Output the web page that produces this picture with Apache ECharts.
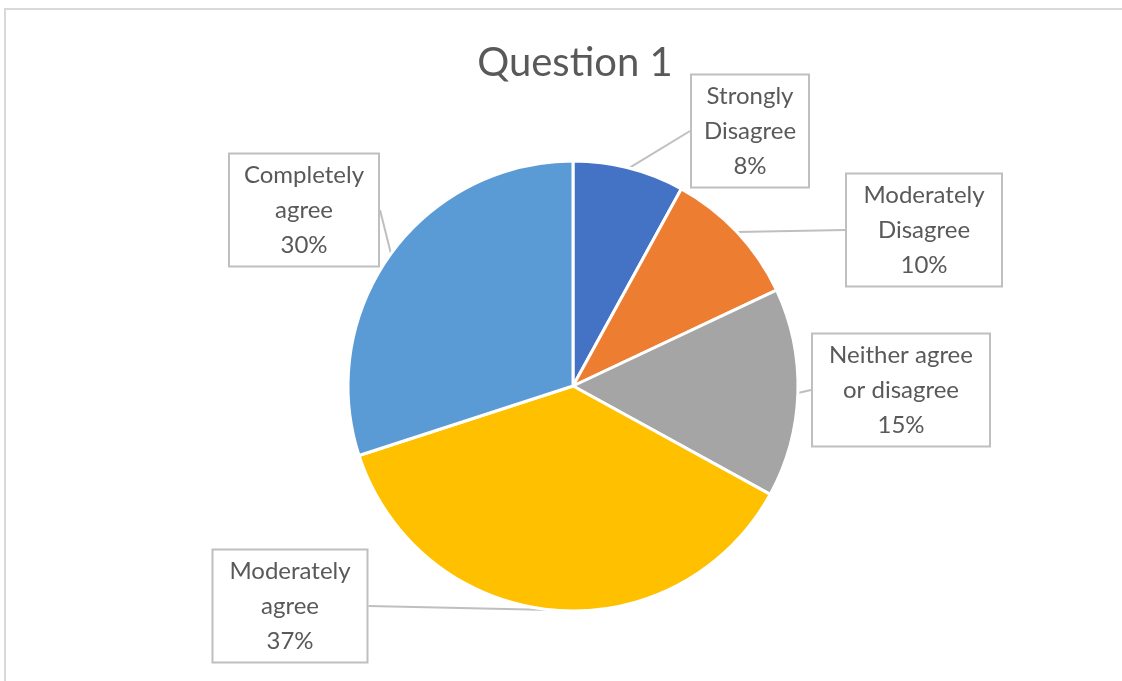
<!DOCTYPE html>
<html>
<head>
<meta charset="utf-8">
<script src="https://cdn.jsdelivr.net/npm/echarts@6/dist/echarts.min.js"></script>
<style>
  html, body { margin: 0; padding: 0; background: #fff; overflow: hidden; }
  #chart { position: absolute; left: 0; top: 0; width: 1122px; height: 681px; }
</style>
</head>
<body>
<div id="chart"></div>
<script>
// Survey responses for Question 1 (percent of respondents)
const categories = [
  'Strongly\nDisagree',
  'Moderately\nDisagree',
  'Neither agree\nor disagree',
  'Moderately\nagree',
  'Completely\nagree'
];
const percents = [8, 10, 15, 37, 30];
const colors = ['#4472C4', '#ED7D31', '#A5A5A5', '#FFC000', '#5B9BD5'];

// Callout box centres and widths, one per slice
const calloutPos = [
  [750, 131],
  [924, 230],
  [901, 390],
  [290, 606],
  [304, 210]
];
const calloutWidth = [96, 134, 156, 133, 128];

const chart = echarts.init(document.getElementById('chart'));
chart.setOption({
  animation: false,
  // chart-area frame (top and left edges)
  graphic: [{
    type: 'polyline',
    shape: { points: [[5, 690], [5, 9], [1130, 9]] },
    style: { stroke: '#d9d9d9', lineWidth: 2, fill: null },
    silent: true
  }],
  title: {
    text: 'Question 1',
    left: 570,
    textAlign: 'center',
    top: 38,
    textStyle: { fontFamily: 'Lato', fontSize: 40, fontWeight: 'normal', color: '#595959' }
  },
  series: [{
    type: 'pie',
    center: [573, 386],
    radius: 225,
    startAngle: 90,
    clockwise: true,
    data: categories.map((name, i) => ({
      name,
      value: percents[i],
      itemStyle: { color: colors[i] },
      label: { width: calloutWidth[i] }
    })),
    itemStyle: { borderColor: '#fff', borderWidth: 3 },
    label: {
      show: true,
      position: 'outside',
      formatter: p => p.name + '\n' + p.value + '%',
      fontFamily: 'Lato',
      fontSize: 24,
      lineHeight: 35,
      color: '#595959',
      align: 'center',
      overflow: 'none',
      backgroundColor: '#fff',
      borderColor: '#bfbfbf',
      borderWidth: 2,
      padding: [4, 10, 2, 10]
    },
    labelLine: { show: true, length: 10, length2: 0, smooth: false, lineStyle: { color: '#bfbfbf', width: 2 } },
    labelLayout: p => ({
      x: calloutPos[p.dataIndex][0],
      y: calloutPos[p.dataIndex][1],
      align: 'center',
      verticalAlign: 'middle'
    })
  }]
});
</script>
</body>
</html>
